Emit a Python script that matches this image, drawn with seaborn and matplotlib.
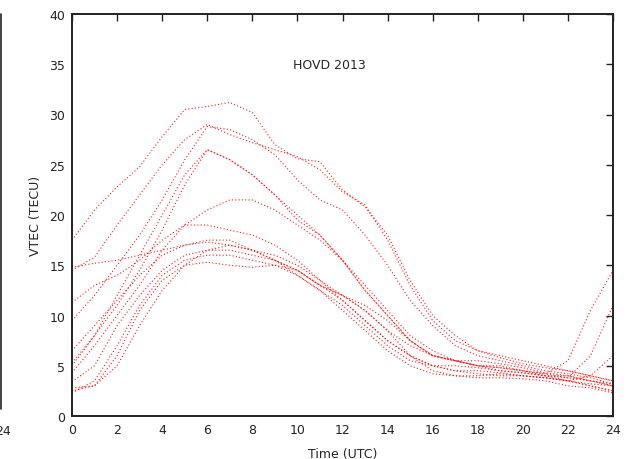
import numpy as np
import pandas as pd
import matplotlib
matplotlib.use("Agg")
import matplotlib.pyplot as plt
import seaborn as sns
from matplotlib.lines import Line2D

hours = list(range(25))

day01 = [17.5, 20.5, 22.8, 24.8, 27.8, 30.5, 30.8, 31.2, 30.2, 27.0, 25.6, 25.3, 22.5, 20.8, 18.0, 13.5, 10.0, 8.0, 6.5, 6.0, 5.5, 5.0, 4.5, 4.0, 3.5]
day02 = [14.5, 15.8, 19.0, 22.0, 25.0, 27.5, 29.0, 28.0, 27.2, 26.5, 25.8, 24.5, 22.3, 21.0, 17.5, 13.0, 9.5, 7.5, 6.5, 5.8, 5.2, 4.8, 4.5, 4.0, 3.5]
day03 = [9.5, 12.0, 15.0, 18.0, 21.5, 25.5, 28.8, 28.5, 27.5, 26.0, 23.5, 21.5, 20.5, 18.0, 15.0, 11.5, 9.0, 7.0, 6.0, 5.5, 5.0, 4.5, 4.2, 3.8, 3.2]
day04 = [5.3, 8.0, 11.0, 14.5, 18.5, 23.0, 26.5, 25.5, 24.0, 22.0, 19.5, 18.0, 15.5, 12.5, 10.0, 7.5, 6.0, 5.5, 5.0, 4.8, 4.5, 4.2, 5.5, 10.5, 14.5]
day05 = [4.3, 7.0, 10.0, 13.0, 16.5, 19.0, 20.5, 21.5, 21.5, 20.5, 19.0, 17.5, 15.5, 13.0, 10.5, 8.0, 6.5, 5.5, 5.0, 4.5, 4.3, 4.0, 4.0, 3.5, 3.0]
day06 = [11.3, 13.0, 14.0, 15.5, 17.5, 19.0, 19.0, 18.5, 18.0, 17.0, 15.5, 13.5, 12.0, 10.5, 8.5, 7.0, 6.0, 5.5, 5.5, 5.2, 4.8, 4.3, 4.0, 3.5, 3.0]
day07 = [14.8, 15.2, 15.5, 16.0, 16.5, 17.0, 17.5, 17.5, 16.5, 15.5, 14.5, 13.0, 12.0, 11.0, 9.5, 7.5, 6.0, 5.5, 5.0, 5.0, 4.5, 4.0, 3.5, 3.2, 3.0]
day08 = [6.5, 9.0, 11.5, 14.0, 16.0, 17.0, 17.3, 17.0, 16.5, 15.5, 14.0, 12.5, 11.0, 9.0, 7.0, 5.5, 5.0, 5.0, 4.8, 4.5, 4.3, 4.0, 3.8, 6.0, 11.0]
day09 = [3.4, 5.0, 9.0, 12.0, 14.5, 16.0, 16.5, 16.5, 16.0, 15.5, 14.5, 13.0, 11.5, 9.5, 7.5, 6.0, 5.0, 4.5, 4.5, 4.3, 4.0, 3.8, 3.5, 4.0, 6.0]
day10 = [2.8, 3.0, 6.0, 10.5, 13.5, 15.0, 15.3, 15.0, 14.8, 15.0, 14.5, 13.0, 12.0, 10.5, 8.5, 6.0, 4.5, 4.0, 4.0, 4.2, 4.0, 3.8, 3.5, 3.0, 2.5]
day11 = [2.5, 3.0, 5.0, 9.0, 12.5, 15.0, 16.5, 17.0, 16.5, 16.0, 15.0, 13.5, 11.5, 9.5, 7.5, 6.0, 5.0, 4.5, 4.2, 4.0, 4.0, 3.8, 3.5, 3.0, 2.5]
day12 = [2.3, 3.5, 7.0, 11.0, 14.0, 15.5, 16.0, 16.0, 15.5, 15.0, 14.0, 12.5, 10.5, 8.5, 6.5, 5.0, 4.2, 4.0, 3.8, 3.8, 3.7, 3.5, 3.0, 2.8, 2.3]
day13 = [5.0, 8.0, 12.0, 16.0, 20.0, 24.0, 26.5, 25.5, 24.0, 22.0, 20.0, 18.0, 15.5, 12.5, 10.0, 7.5, 6.0, 5.5, 5.0, 4.8, 4.5, 4.2, 3.8, 3.5, 3.2]

days = {"d01": day01, "d02": day02, "d03": day03, "d04": day04, "d05": day05,
        "d06": day06, "d07": day07, "d08": day08, "d09": day09, "d10": day10,
        "d11": day11, "d12": day12, "d13": day13}

x_ticks = list(range(0, 25, 2))
y_ticks = list(range(0, 41, 5))
title = "HOVD 2013"

rows = []
for name, vals in days.items():
    for h, v in zip(hours, vals):
        rows.append({"day": name, "hour": h, "vtec": v})
df = pd.DataFrame(rows)

sns.set_style("white")
plt.rcParams["font.family"] = ["DejaVu Sans"]

fig = plt.figure(figsize=(6.39, 4.60), dpi=100)
ax = fig.add_axes([72/639, 43/460, 541/639, 402/460])

sns.lineplot(data=df, x="hour", y="vtec", units="day", estimator=None,
             color="red", linewidth=0.8, linestyle=(0, (1, 2)), alpha=0.9,
             ax=ax, legend=False)

ax.set_xlim(0, 24)
ax.set_ylim(0, 40)
ax.set_xticks(x_ticks)
ax.set_yticks(y_ticks)
ax.tick_params(direction="in", top=True, right=True, length=5, width=1,
               labelsize=9, colors="#222222", pad=5)
for sp in ax.spines.values():
    sp.set_linewidth(1.4)
    sp.set_color("#222222")
ax.set_xlabel("Time (UTC)", fontsize=9, labelpad=8)
ax.set_ylabel("VTEC (TECU)", fontsize=9, labelpad=5)
ax.text(11.4, 35, title, fontsize=9, ha="center", va="center")

# fragment of neighbouring panel at left edge
fig.add_artist(Line2D([1/639, 1/639], [50/460, 445/460], color="#222222", lw=1.2))
fig.text(3/639, 28/460, "24", fontsize=9, ha="center", va="center", color="#222222")

fig.savefig("out.png", dpi=100)
